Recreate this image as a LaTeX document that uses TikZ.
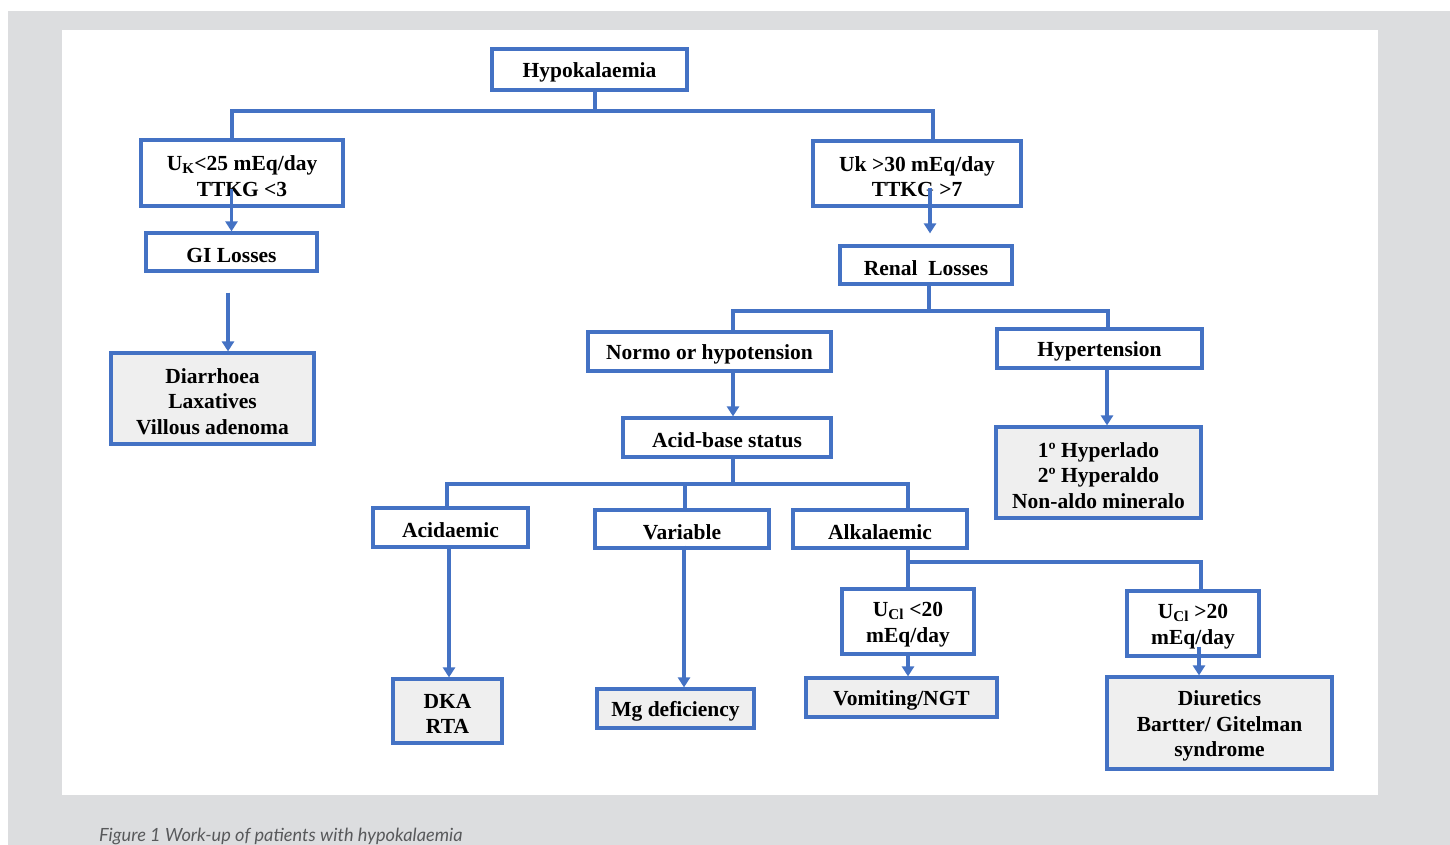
\documentclass[tikz,border=0pt]{standalone}
\usepackage{fontspec}
\setmainfont{Liberation Serif}
\newfontfamily\capfont{Lato}
\usetikzlibrary{arrows.meta,calc}
\definecolor{bl}{HTML}{4472C4}
\definecolor{leafgray}{HTML}{EFEFEF}
\definecolor{bggray}{HTML}{DCDDDF}
\definecolor{capgray}{HTML}{58595B}
\begin{document}
\begin{tikzpicture}[x=1pt,y=-1pt,
  box/.style={draw=bl,line width=3.2pt,fill=white,inner sep=0pt},
  leaf/.style={box,fill=leafgray},
  txt/.style={inner sep=0pt,align=center,yshift=-3pt,
    font=\fontsize{21.5}{25.5}\selectfont\bfseries},
  conn/.style={draw=bl,line width=3.2pt},
  arr/.style={conn,-{Triangle[width=12pt,length=10pt]}}]
\useasboundingbox (0,0) rectangle (1450,845);
\fill[bggray] (8,11) rectangle (1450,845);
\fill[white] (62,30) rectangle (1378,795);
\node[anchor=base west, text=capgray, font=\capfont\itshape\fontsize{18.2}{22}\selectfont, inner sep=0pt] (cap) at (99,841) {Figure 1 Work-up of patients with hypokalaemia};

% nodes
\node[box, minimum width=195pt, minimum height=41pt, label={[txt,name=hypoT]center:Hypokalaemia}] (hypo) at (589.5,69.5) {};
\node[box, minimum width=202pt, minimum height=66pt, label={[txt,name=uk1T]center:U\textsubscript{K}<25 mEq/day\\TTKG <3}] (uk1) at (242,173) {};
\node[box, minimum width=171pt, minimum height=38pt, label={[txt,name=giT]center:GI Losses}] (gi) at (231.5,252) {};
\node[leaf, minimum width=203pt, minimum height=91pt, label={[txt,name=diarT]center:Diarrhoea\\Laxatives\\Villous adenoma}] (diar) at (212.5,398.5) {};
\node[box, minimum width=208pt, minimum height=65pt, label={[txt,name=uk2T]center:Uk >30 mEq/day\\TTKG >7}] (uk2) at (917,173.5) {};
\node[box, minimum width=172pt, minimum height=38pt, label={[txt,name=renalT]center:Renal\ \ Losses}] (renal) at (926,265) {};
\node[box, minimum width=243pt, minimum height=39pt, label={[txt,name=normoT]center:Normo or hypotension}] (normo) at (709.5,351.5) {};
\node[box, minimum width=205pt, minimum height=39pt, label={[txt,name=hyperT]center:Hypertension}] (hyper) at (1099.5,348.5) {};
\node[box, minimum width=208pt, minimum height=39pt, label={[txt,name=acidT]center:Acid-base status}] (acid) at (727,437.5) {};
\node[leaf, minimum width=205pt, minimum height=91pt, label={[txt,name=aldoT]center:1º Hyperlado\\2º Hyperaldo\\Non-aldo mineralo}] (aldo) at (1098.5,472.5) {};
\node[box, minimum width=155pt, minimum height=39pt, label={[txt,name=acidmT]center:Acidaemic}] (acidm) at (450.5,527.5) {};
\node[box, minimum width=174pt, minimum height=38pt, label={[txt,name=varT]center:Variable}] (var) at (682,529) {};
\node[box, minimum width=174pt, minimum height=38pt, label={[txt,name=alkT]center:Alkalaemic}] (alk) at (880,529) {};
\node[box, minimum width=132pt, minimum height=65pt, label={[txt,name=ucl1T]center:U\textsubscript{Cl} <20\\mEq/day}] (ucl1) at (908,621.5) {};
\node[box, minimum width=132pt, minimum height=65pt, label={[txt,name=ucl2T]center:U\textsubscript{Cl} >20\\mEq/day}] (ucl2) at (1193,623.5) {};
\node[leaf, minimum width=109pt, minimum height=64pt, label={[txt,name=dkaT]center:DKA\\RTA}] (dka) at (447.5,711) {};
\node[leaf, minimum width=157pt, minimum height=39pt, label={[txt,name=mgT]center:Mg deficiency}] (mg) at (675.5,708.5) {};
\node[leaf, minimum width=191pt, minimum height=39pt, label={[txt,name=vomT]center:Vomiting/NGT}] (vom) at (901.5,697.5) {};
\node[leaf, minimum width=225pt, minimum height=92pt, label={[txt,name=diurT]center:Diuretics\\Bartter/ Gitelman\\syndrome}] (diur) at (1219.5,723) {};

% junction coordinates
\coordinate (h0) at (595,111);
\coordinate (h1) at (232,111);
\coordinate (h2) at (933,111);
\coordinate (r0) at (929,311);
\coordinate (r1) at (733,311);
\coordinate (r2) at (1108,311);
\coordinate (a0) at (733,484);
\coordinate (a1) at (447,484);
\coordinate (a2) at (685,484);
\coordinate (a3) at (908,484);
\coordinate (k0) at (908,562);
\coordinate (k2) at (1201,562);

% connectors
\draw[conn] (hypo.south -| h0) -- (h0);
\draw[conn, line join=miter] (uk1.north -| h1) -- (h1) -- (h2) -- (uk2.north -| h2);
\draw[arr] ($(gi.north)+(0,-42)$) -- (gi.north);
\draw[arr] ($(gi.south)+(-3.5,20)$) -- ($(diar.north)+(15.5,0)$);
\draw[arr] ($(renal.north)+(4,-56)$) -- ($(renal.north)+(4,-11)$);
\draw[conn] (renal.south -| r0) -- (r0);
\draw[conn, line join=miter] (normo.north -| r1) -- (r1) -- (r2) -- (hyper.north -| r2);
\draw[arr] (normo.south -| r1) -- (acid.north -| r1);
\draw[arr] ($(hyper.south)+(7.5,0)$) -- ($(aldo.north)+(8.5,0)$);
\draw[conn] (acid.south -| a0) -- (a0);
\draw[conn, line join=miter] (acidm.north -| a1) -- (a1) -- (a3) -- (alk.north -| a3);
\draw[conn] (var.north -| a2) -- (a2);
\draw[arr] ($(acidm.south)+(-1.5,0)$) -- ($(dka.north)+(1.5,0)$);
\draw[arr] ($(var.south)+(2,-4)$) -- ($(mg.north)+(8.5,0)$);
\draw[conn, line join=miter] (alk.south -| k0) -- (k0) -- (k2) -- (ucl2.north -| k2);
\draw[conn] (k0) -- (ucl1.north);
\draw[arr] (ucl1.south) -- (vom.north -| ucl1.south);
\draw[arr] ($(ucl2.south)+(6,-11)$) -- ($(diur.north)+(-20.5,0)$);
\end{tikzpicture}
\end{document}
